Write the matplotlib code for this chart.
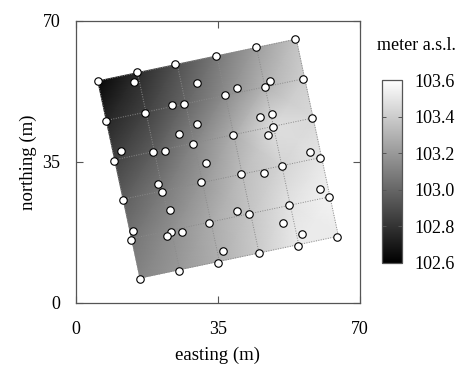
import numpy as np
import matplotlib
matplotlib.use("Agg")
import matplotlib.pyplot as plt

# ---- data ----
easting_pts = [5.4, 15.0, 14.3, 24.4, 34.5, 44.4, 54.0, 29.8, 36.7, 17.0,
               23.7, 26.6, 29.8, 25.4, 28.8, 7.4, 11.1, 9.4, 19.0, 21.9,
               32.0, 30.8, 20.2, 39.7, 46.6, 47.8, 56.0, 45.4, 48.3, 48.6,
               47.3, 58.2, 38.7, 57.7, 60.1, 50.8, 46.3, 40.7, 60.1, 62.4,
               52.5, 39.7, 42.6, 51.0, 55.7, 54.7, 64.3, 45.1, 11.6, 21.2,
               23.2, 14.1, 13.6, 23.4, 22.4, 26.1, 32.8, 36.2, 35.0, 25.4,
               15.8]
northing_pts = [55.1, 57.3, 54.9, 59.3, 61.3, 63.6, 65.5, 54.6, 51.6, 47.2,
                49.2, 49.4, 44.4, 42.0, 39.5, 45.2, 37.7, 35.3, 37.5, 37.7,
                34.8, 30.0, 29.5, 53.4, 53.6, 55.1, 55.6, 46.2, 46.9, 43.7,
                41.7, 45.9, 41.7, 37.5, 36.0, 34.0, 32.3, 32.0, 28.3, 26.3,
                24.3, 22.8, 22.1, 19.9, 17.1, 14.2, 16.4, 12.4, 25.6, 27.6,
                23.1, 17.9, 15.6, 17.6, 16.6, 17.6, 19.9, 12.9, 9.9, 7.9,
                6.0]

# survey grid (rotated square, 5 x 5 cells of 10 m)
grid_origin = (5.4, 55.1)   # north-west corner
grid_angle_deg = 12.0
grid_cell = 10.0
grid_ncell = 5

# elevation (m a.s.l.) at grid nodes, rows from north edge to south edge,
# columns from west edge to east edge
elevation_nodes = [
    [102.63, 102.77, 102.92, 103.07, 103.22, 103.36],
    [102.75, 102.86, 103.00, 103.15, 103.30, 103.41],
    [102.86, 102.97, 103.12, 103.28, 103.47, 103.45],
    [102.97, 103.08, 103.20, 103.34, 103.43, 103.50],
    [103.06, 103.16, 103.27, 103.37, 103.49, 103.55],
    [103.12, 103.20, 103.29, 103.40, 103.52, 103.52],
]

axis_ticks = [0, 35, 70]
cbar_ticks = [102.6, 102.8, 103.0, 103.2, 103.4, 103.6]
vmin, vmax = 102.6, 103.6

# ---- plot ----
plt.rcParams['font.family'] = ['Liberation Serif', 'DejaVu Serif']

fig = plt.figure(figsize=(4.6, 3.67), dpi=100)
ax = fig.add_axes([0.165, 0.1744, 0.6174, 0.7684])
cax = fig.add_axes([0.830, 0.2834, 0.0435, 0.4986])

th = np.deg2rad(grid_angle_deg)
ii, jj = np.meshgrid(np.arange(grid_ncell + 1), np.arange(grid_ncell + 1))
X = grid_origin[0] + ii * grid_cell * np.cos(th) + jj * grid_cell * np.sin(th)
Y = grid_origin[1] + ii * grid_cell * np.sin(th) - jj * grid_cell * np.cos(th)
C = np.array(elevation_nodes)

mesh = ax.pcolormesh(X, Y, C, shading='gouraud', cmap='gray',
                     vmin=vmin, vmax=vmax, zorder=1, rasterized=True)

# dotted grid lines
for k in range(grid_ncell + 1):
    ax.plot(X[k, :], Y[k, :], ls=(0, (1, 1.5)), color='#8a8a8a', lw=0.7, zorder=2)
    ax.plot(X[:, k], Y[:, k], ls=(0, (1, 1.5)), color='#8a8a8a', lw=0.7, zorder=2)

ax.scatter(easting_pts, northing_pts, s=29, facecolor='white',
           edgecolor='black', linewidth=0.8, zorder=3)

ax.set_xlim(0, 70)
ax.set_ylim(0, 70)
ax.set_xticks(axis_ticks)
ax.set_yticks(axis_ticks)
ax.tick_params(direction='in', length=5, width=0.8, color='#555555',
               labelsize=13, top=True, right=True, pad=11)
ax.tick_params(axis='x', pad=13)
for sp in ax.spines.values():
    sp.set_color('#555555')
    sp.set_linewidth(0.9)
ax.set_xlabel('easting (m)', fontsize=13.5, labelpad=6)
ax.set_ylabel('northing (m)', fontsize=13.5, labelpad=4)

cb = fig.colorbar(mesh, cax=cax, ticks=cbar_ticks)
cb.ax.set_yticklabels([f'{t:.1f}' for t in cbar_ticks])
cb.ax.tick_params(direction='in', length=3, width=0.7, color='#555555',
                  labelsize=13, left=True, right=True, pad=9)
cb.outline.set_edgecolor('#555555')
cb.outline.set_linewidth(0.9)
fig.text(0.905, 0.876, 'meter a.s.l.', ha='center', va='center', fontsize=13)

fig.savefig('out.png', dpi=100)
